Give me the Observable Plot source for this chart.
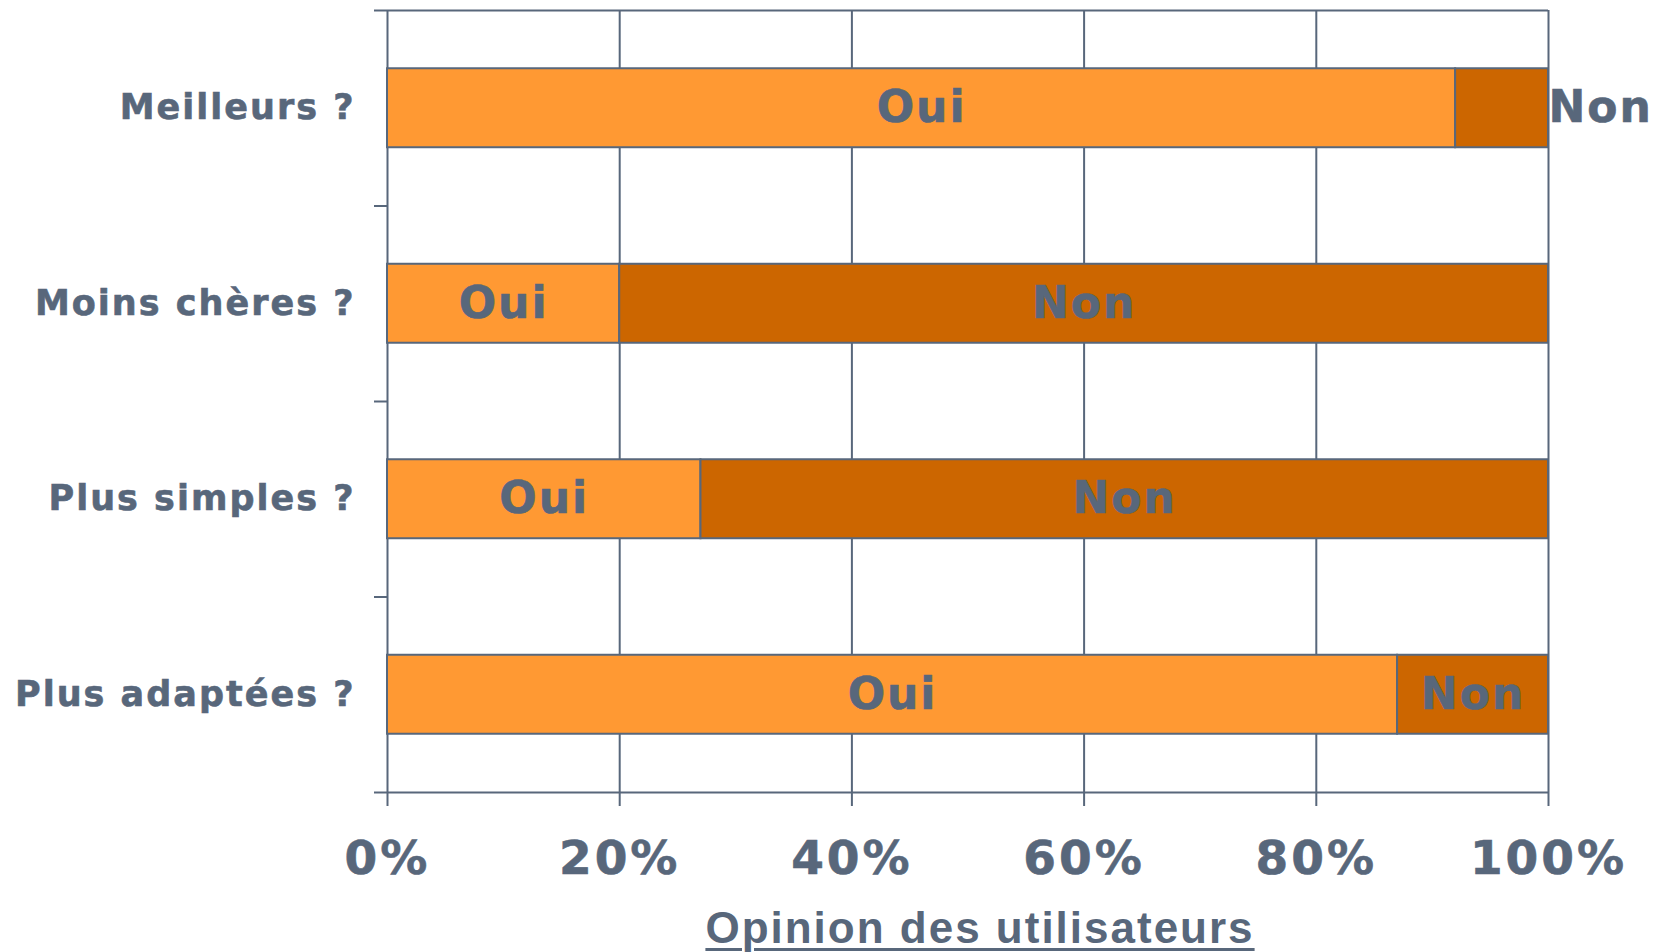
<!DOCTYPE html>
<html>
<head>
<meta charset="utf-8">
<script src="https://cdn.jsdelivr.net/npm/d3@7"></script>
<script src="https://cdn.jsdelivr.net/npm/@observablehq/plot@0.6"></script>
<style>
  body { margin: 0; background: #fff; }
  #wrap { position: relative; width: 1657px; height: 952px; overflow: hidden; }
  #chart svg { display: block; letter-spacing: 2px; }
  #chart svg g[aria-label="x-axis tick label"] text { letter-spacing: 3px; }
  #chart svg text { stroke: #58677b; stroke-width: 0.6px; }
  #title {
    position: absolute; left: 387px; width: 1161px; top: 906px;
    box-sizing: border-box; padding-left: 25px;
    text-align: center;
    font: bold 44px "Liberation Sans", Arial, sans-serif;
    line-height: 44px;
    letter-spacing: 2px;
    color: #58677b;
    text-decoration: underline;
    text-decoration-thickness: 3px;
    text-underline-offset: 5px;
  }
</style>
</head>
<body>
<div id="wrap">
  <div id="chart"></div>
  <div id="title">Opinion des utilisateurs</div>
</div>
<script>
// ---- Data ----
const categories = ["Meilleurs ?", "Moins chères ?", "Plus simples ?", "Plus adaptées ?"];
const answers = ["Oui", "Non"];
const ouiShare = [0.92, 0.20, 0.27, 0.87];
const xTicks = [0, 0.2, 0.4, 0.6, 0.8, 1];
const answerColors = ["#ff9933", "#cc6600"];

const ink = "#58677b";

// Segments (Oui from 0 to share, Non from share to 100%)
const rows = categories.flatMap((cat, i) => [
  {cat, i, answer: answers[0], x1: 0, x2: ouiShare[i]},
  {cat, i, answer: answers[1], x1: ouiShare[i], x2: 1}
]);
const inside = rows.filter(d => d.x2 - d.x1 >= 0.1);
const outside = rows.filter(d => d.x2 - d.x1 < 0.1);

const half = 0.202; // half of bar thickness, in band units

const chart = Plot.plot({
  width: 1657,
  height: 900,
  marginLeft: 387,
  marginRight: 109,
  marginTop: 10,
  marginBottom: 108,
  x: {domain: [0, 1]},
  y: {domain: [0, categories.length], reverse: true},
  color: {domain: answers, range: answerColors},
  style: {
    fontFamily: "Verdana, 'DejaVu Sans', sans-serif",
    fontWeight: "bold",
    color: ink,
    background: "white",
    overflow: "visible"
  },
  marks: [
    Plot.ruleX(xTicks, {stroke: ink, strokeWidth: 2}),
    Plot.ruleY([0, categories.length], {stroke: ink, strokeWidth: 2}),
    Plot.rectX(rows, {
      x1: "x1", x2: "x2",
      y1: d => d.i + 0.5 - half,
      y2: d => d.i + 0.5 + half,
      fill: "answer",
      stroke: ink,
      strokeWidth: 2
    }),
    Plot.text(inside, {
      x: d => (d.x1 + d.x2) / 2,
      y: d => d.i + 0.5,
      text: "answer",
      fill: ink,
      fontSize: 44,
      fontWeight: "bold",
      textAnchor: "middle"
    }),
    Plot.text(outside, {
      x: "x2",
      y: d => d.i + 0.5,
      text: "answer",
      fill: ink,
      fontSize: 44,
      fontWeight: "bold",
      textAnchor: "start"
    }),
    Plot.axisX({
      ticks: xTicks,
      tickFormat: d3.format(".0%"),
      tickSize: 14,
      tickPadding: 34,
      fontSize: 47,
      strokeWidth: 2,
      label: null
    }),
    Plot.axisY({
      ticks: d3.range(categories.length + 1),
      tickFormat: () => "",
      tickSize: 13,
      strokeWidth: 2,
      label: null
    }),
    Plot.axisY({
      ticks: categories.map((c, i) => i + 0.5),
      tickFormat: v => categories[Math.floor(v)],
      tickSize: 0,
      tickPadding: 32,
      fontSize: 35,
      label: null
    })
  ]
});
document.getElementById("chart").appendChild(chart);
</script>
</body>
</html>
